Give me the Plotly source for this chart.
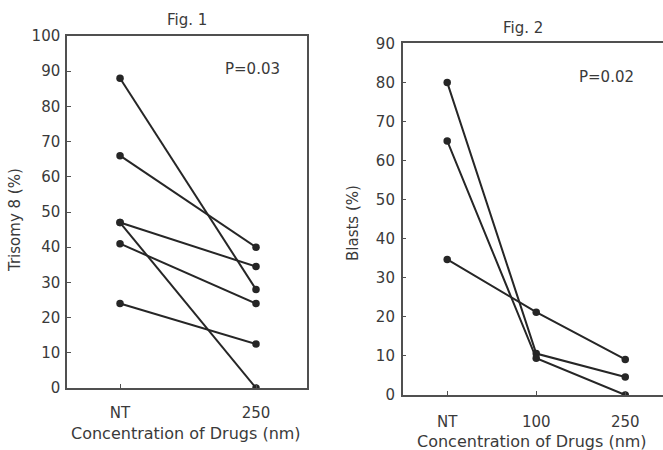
import plotly.graph_objects as go

# ---- Data ----
fig1_categories = ["NT", "250"]
fig1_series = [
    [88, 28],
    [66, 40],
    [47, 34.5],
    [47, 0],
    [41, 24],
    [24, 12.5],
]
fig1_yticks = [0, 10, 20, 30, 40, 50, 60, 70, 80, 90, 100]

fig2_categories = ["NT", "100", "250"]
fig2_series = [
    [80, 10.6, 4.6],
    [65, 9.4, 0],
    [34.7, 21.2, 9.1],
]
fig2_yticks = [0, 10, 20, 30, 40, 50, 60, 70, 80, 90]

W, H = 663, 450
FONT = "DejaVu Sans"
TXT = "#3a3a3a"
LINE = "#262626"
AX = "#505050"

fig = go.Figure()
for s in fig1_series:
    fig.add_trace(go.Scatter(x=fig1_categories, y=s, mode="lines+markers",
                             line=dict(color=LINE, width=2),
                             marker=dict(color=LINE, size=7.5),
                             xaxis="x", yaxis="y", showlegend=False))
for s in fig2_series:
    fig.add_trace(go.Scatter(x=fig2_categories, y=s, mode="lines+markers",
                             line=dict(color=LINE, width=2),
                             marker=dict(color=LINE, size=7.5),
                             xaxis="x2", yaxis="y2", showlegend=False))

def px_x(p):
    return p / W

def px_y(p):
    return (H - p) / H

common_axis = dict(showgrid=False, zeroline=False, showline=True, linecolor=AX,
                   linewidth=1.5, ticks="inside", ticklen=4, tickcolor=AX,
                   automargin=False,
                   tickfont=dict(family=FONT, size=15, color=TXT))

fig.update_layout(
    width=W, height=H,
    margin=dict(l=0, r=0, t=0, b=0),
    paper_bgcolor="white", plot_bgcolor="white",
    xaxis=dict(common_axis, domain=[px_x(67), px_x(307)], anchor="y",
               type="category", categoryorder="array", categoryarray=fig1_categories,
               range=[-0.39, 1.375], mirror=True, ticklabelstandoff=10),
    yaxis=dict(common_axis, domain=[px_y(388), px_y(36)], anchor="x",
               range=[0, 100], tickvals=fig1_yticks, mirror=True, ticklabelstandoff=2),
    xaxis2=dict(common_axis, domain=[px_x(402.7), 1.0], anchor="y2",
                type="category", categoryorder="array", categoryarray=fig2_categories,
                range=[-0.5, 2.424], mirror=True, ticklabelstandoff=12),
    yaxis2=dict(common_axis, domain=[px_y(395), px_y(43.3)], anchor="x2",
                range=[0, 90], tickvals=fig2_yticks, mirror=False, ticklabelstandoff=3),
)

def ann(text, x, y, size=15, angle=0):
    fig.add_annotation(text=text, x=px_x(x), y=px_y(y), xref="paper", yref="paper",
                       showarrow=False, textangle=angle, xanchor="center", yanchor="middle",
                       font=dict(family=FONT, size=size, color=TXT))

ann("Fig. 1", 187, 20)
ann("Fig. 2", 523, 28)
ann("P=0.03", 253, 69)
ann("P=0.02", 606, 77)
ann("Trisomy 8 (%)", 15, 220, angle=-90)
ann("Blasts (%)", 353, 223, angle=-90)
ann("Concentration of Drugs (nm)", 186, 433, size=16)
ann("Concentration of Drugs (nm)", 532, 441, size=16)

fig.write_html("out.html", config={"displayModeBar": False},
               post_script="document.body.style.margin='0';document.body.style.overflow='hidden';")
